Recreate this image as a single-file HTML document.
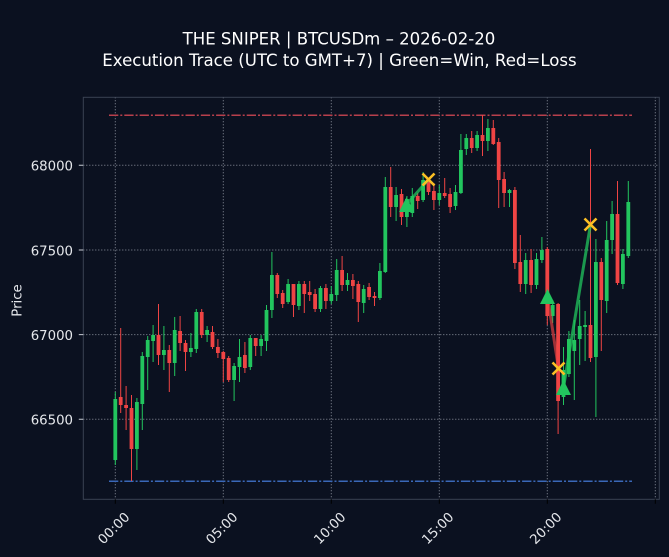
<!DOCTYPE html>
<html><head><meta charset="utf-8"><style>
html,body{margin:0;padding:0;background:#0b1120;width:669px;height:557px;overflow:hidden}
svg{display:block}
text{font-family:"DejaVu Sans","Liberation Sans",sans-serif}
</style></head><body>
<svg width="669" height="557" viewBox="0 0 669 557" xmlns="http://www.w3.org/2000/svg">
<rect x="0" y="0" width="669" height="557" fill="#0b1120"/>
<text x="339" y="44.5" font-size="17.3" fill="#ffffff" text-anchor="middle" textLength="312.7" lengthAdjust="spacingAndGlyphs">THE SNIPER | BTCUSDm – 2026-02-20</text>
<text x="339.5" y="65.8" font-size="17.3" fill="#ffffff" text-anchor="middle" textLength="474.4" lengthAdjust="spacingAndGlyphs">Execution Trace (UTC to GMT+7) | Green=Win, Red=Loss</text>
<g stroke="#b8bec8" stroke-width="1" stroke-dasharray="1 2" opacity="0.75">
<path d="M115.3 97.3V499.3M223.3 97.3V499.3M331.3 97.3V499.3M439.3 97.3V499.3M547.3 97.3V499.3M655.3 97.3V499.3"/>
<path d="M83.3 165.3H659.3M83.3 250H659.3M83.3 334.6H659.3M83.3 419.3H659.3"/>
</g>
<path d="M109 115.3H632" stroke="#b8404c" stroke-width="1.5" stroke-dasharray="9.3 2 2 2" fill="none"/>
<path d="M109 481.3H632" stroke="#3a68b8" stroke-width="1.5" stroke-dasharray="9.3 2 2 2" fill="none"/>
<g fill="#22c55e" stroke="#22c55e">
<path stroke-width="1" fill="none" d="M115.3 392V465M136.9 398V470M142.3 352V430M147.7 336V390M153.1 325V362M163.9 326V370M174.7 317V376M190.9 333V357M196.3 309V353M207.1 326V342M234.1 363V401M239.5 339V382M250.3 335V370M261.1 335V356M266.5 305V351M271.9 252V318M288.1 279V304M298.9 281V310M320.5 286V312M331.3 286V304M336.7 259V301M347.5 273V291M363.7 285V313M379.9 263V300M385.3 177V273M396.1 187V221M406.9 196V227M412.3 188V217M423.1 172V202M439.3 185V205M455.5 185V210M460.9 134V194M466.3 134V155M477.1 131V151M487.9 119V151M509.5 189V207M525.7 253V294M536.5 253V289M541.9 237V263M552.7 300V323M563.5 347V405M568.9 331V377M574.3 320V400M579.7 300V365M585.1 311V361M595.9 239V417M606.7 221V313M612.1 201V254M622.9 249V289M628.3 181V258"/>
<g stroke="none">
<rect x="113.4" y="399" width="3.8" height="61"/>
<rect x="135.0" y="402" width="3.8" height="47"/>
<rect x="140.4" y="356" width="3.8" height="48"/>
<rect x="145.8" y="340" width="3.8" height="17"/>
<rect x="151.2" y="335" width="3.8" height="6"/>
<rect x="162.0" y="350" width="3.8" height="5"/>
<rect x="172.8" y="330" width="3.8" height="33"/>
<rect x="189.0" y="348" width="3.8" height="4"/>
<rect x="194.4" y="312" width="3.8" height="37"/>
<rect x="205.2" y="330" width="3.8" height="5"/>
<rect x="232.2" y="366" width="3.8" height="14"/>
<rect x="237.6" y="357" width="3.8" height="10"/>
<rect x="248.4" y="338" width="3.8" height="29"/>
<rect x="259.2" y="339" width="3.8" height="7"/>
<rect x="264.6" y="310" width="3.8" height="31"/>
<rect x="270.0" y="275" width="3.8" height="35"/>
<rect x="286.2" y="284" width="3.8" height="18"/>
<rect x="297.0" y="284" width="3.8" height="22"/>
<rect x="318.6" y="288" width="3.8" height="21"/>
<rect x="329.4" y="294" width="3.8" height="7"/>
<rect x="334.8" y="270" width="3.8" height="25"/>
<rect x="345.6" y="280" width="3.8" height="5"/>
<rect x="361.8" y="289" width="3.8" height="14"/>
<rect x="378.0" y="271" width="3.8" height="27"/>
<rect x="383.4" y="187" width="3.8" height="85"/>
<rect x="394.2" y="195" width="3.8" height="12"/>
<rect x="405.0" y="199" width="3.8" height="18"/>
<rect x="410.4" y="196" width="3.8" height="17"/>
<rect x="421.2" y="180" width="3.8" height="20"/>
<rect x="437.4" y="193" width="3.8" height="7"/>
<rect x="453.6" y="192" width="3.8" height="14"/>
<rect x="459.0" y="150" width="3.8" height="43"/>
<rect x="464.4" y="138" width="3.8" height="11"/>
<rect x="475.2" y="135" width="3.8" height="13"/>
<rect x="486.0" y="128" width="3.8" height="13"/>
<rect x="507.6" y="190" width="3.8" height="3"/>
<rect x="523.8" y="260" width="3.8" height="24"/>
<rect x="534.6" y="259" width="3.8" height="26"/>
<rect x="540.0" y="250" width="3.8" height="10"/>
<rect x="550.8" y="305" width="3.8" height="11"/>
<rect x="561.6" y="370" width="3.8" height="27"/>
<rect x="567.0" y="339" width="3.8" height="35"/>
<rect x="572.4" y="340" width="3.8" height="11"/>
<rect x="577.8" y="326" width="3.8" height="13"/>
<rect x="583.2" y="325" width="3.8" height="2"/>
<rect x="594.0" y="262" width="3.8" height="95"/>
<rect x="604.8" y="240" width="3.8" height="61"/>
<rect x="610.2" y="214" width="3.8" height="26"/>
<rect x="621.0" y="254" width="3.8" height="30"/>
<rect x="626.4" y="202" width="3.8" height="54"/>
</g></g>
<g fill="#ef4444" stroke="#ef4444">
<path stroke-width="1" fill="none" d="M120.7 328V413M126.1 386V430M131.5 395V481M158.5 304V365M169.3 345V392M180.1 316V351M185.5 340V371M201.7 309V338M212.5 326V349M217.9 339V358M223.3 351V382M228.7 356V382M244.9 342V373M255.7 338V356M277.3 273V298M282.7 290V308M293.5 284V317M304.3 281V313M309.7 281V301M315.1 289V312M325.9 284V309M342.1 256V291M352.9 274V299M358.3 281V322M369.1 283V300M374.5 292V306M390.7 167V217M401.5 189V225M417.7 193V209M428.5 178V195M433.9 183V210M444.7 178V198M450.1 188V213M471.7 131V153M482.5 115V156M493.3 120V145M498.7 138V208M504.1 172V207M514.9 187V269M520.3 235V292M531.1 249V293M547.3 247V325M558.1 303V434M590.5 149V362M601.3 258V351M617.5 181V285"/>
<g stroke="none">
<rect x="118.8" y="397" width="3.8" height="8"/>
<rect x="124.2" y="405" width="3.8" height="3"/>
<rect x="129.6" y="408" width="3.8" height="41"/>
<rect x="156.6" y="335" width="3.8" height="20"/>
<rect x="167.4" y="350" width="3.8" height="13"/>
<rect x="178.2" y="331" width="3.8" height="12"/>
<rect x="183.6" y="343" width="3.8" height="9"/>
<rect x="199.8" y="312" width="3.8" height="23"/>
<rect x="210.6" y="332" width="3.8" height="15"/>
<rect x="216.0" y="347" width="3.8" height="6"/>
<rect x="221.4" y="352" width="3.8" height="7"/>
<rect x="226.8" y="358" width="3.8" height="22"/>
<rect x="243.0" y="355" width="3.8" height="13"/>
<rect x="253.8" y="338" width="3.8" height="8"/>
<rect x="275.4" y="275" width="3.8" height="19"/>
<rect x="280.8" y="293" width="3.8" height="11"/>
<rect x="291.6" y="284" width="3.8" height="21"/>
<rect x="302.4" y="284" width="3.8" height="10"/>
<rect x="307.8" y="292" width="3.8" height="3"/>
<rect x="313.2" y="294" width="3.8" height="15"/>
<rect x="324.0" y="288" width="3.8" height="13"/>
<rect x="340.2" y="270" width="3.8" height="15"/>
<rect x="351.0" y="280" width="3.8" height="6"/>
<rect x="356.4" y="284" width="3.8" height="18"/>
<rect x="367.2" y="287" width="3.8" height="10"/>
<rect x="372.6" y="296" width="3.8" height="2"/>
<rect x="388.8" y="187" width="3.8" height="20"/>
<rect x="399.6" y="194" width="3.8" height="23"/>
<rect x="415.8" y="196" width="3.8" height="5"/>
<rect x="426.6" y="182" width="3.8" height="10"/>
<rect x="432.0" y="191" width="3.8" height="9"/>
<rect x="442.8" y="193" width="3.8" height="3"/>
<rect x="448.2" y="194" width="3.8" height="13"/>
<rect x="469.8" y="138" width="3.8" height="10"/>
<rect x="480.6" y="135" width="3.8" height="6"/>
<rect x="491.4" y="128" width="3.8" height="16"/>
<rect x="496.8" y="142" width="3.8" height="38"/>
<rect x="502.2" y="179" width="3.8" height="14"/>
<rect x="513.0" y="190" width="3.8" height="73"/>
<rect x="518.4" y="262" width="3.8" height="22"/>
<rect x="529.2" y="260" width="3.8" height="25"/>
<rect x="545.4" y="249" width="3.8" height="67"/>
<rect x="556.2" y="304" width="3.8" height="97"/>
<rect x="588.6" y="325" width="3.8" height="33"/>
<rect x="599.4" y="262" width="3.8" height="38"/>
<rect x="615.6" y="214" width="3.8" height="69"/>
</g></g>
<g fill="none" stroke-width="3" stroke-linecap="butt">
<path d="M406.5 204.5L428.5 179.5" stroke="#22c55e" stroke-opacity="0.75"/>
<path d="M547.5 296.5L558.5 368.5" stroke="#ef4444" stroke-opacity="0.65"/>
<path d="M563.5 387.5L590.5 224.5" stroke="#22c55e" stroke-opacity="0.75"/>
</g>
<g fill="#22c55e">
<path d="M406.5 197L414 212H399Z"/>
<path d="M547.5 289L555 304H540Z"/>
<path d="M563.5 380L571 395H556Z"/>
</g>
<g stroke="#fbbf24" stroke-width="2.6" fill="none">
<path d="M422.5 173.5L434.5 185.5M434.5 173.5L422.5 185.5"/>
<path d="M552.5 362.5L564.5 374.5M564.5 362.5L552.5 374.5"/>
<path d="M584.5 218.5L596.5 230.5M596.5 218.5L584.5 230.5"/>
</g>
<rect x="83.3" y="97.3" width="576" height="402" fill="none" stroke="#3a4252" stroke-width="1"/>
<g stroke="#c8ccd4" stroke-width="1">
<path d="M78.8 165.3H83.3M78.8 250H83.3M78.8 334.6H83.3M78.8 419.3H83.3"/>
</g>
<g font-size="13.3" fill="#e5e7eb" text-anchor="end">
<text x="73" y="170.7">68000</text>
<text x="73" y="255.4">67500</text>
<text x="73" y="340">67000</text>
<text x="73" y="424.7">66500</text>
</g>
<text transform="translate(21.5 300.5) rotate(-90)" font-size="13.3" fill="#e5e7eb" text-anchor="middle">Price</text>
<g stroke="#000000" stroke-width="1">
<path d="M115.3 499.3V503.8M223.3 499.3V503.8M331.3 499.3V503.8M439.3 499.3V503.8M547.3 499.3V503.8M655.3 499.3V503.8"/>
</g>
<g font-size="13.3" fill="#e5e7eb" text-anchor="middle">
<text transform="translate(113.5 528) rotate(-45)" y="4.8">00:00</text>
<text transform="translate(221.5 528) rotate(-45)" y="4.8">05:00</text>
<text transform="translate(329.5 528) rotate(-45)" y="4.8">10:00</text>
<text transform="translate(437.5 528) rotate(-45)" y="4.8">15:00</text>
<text transform="translate(545.5 528) rotate(-45)" y="4.8">20:00</text>
</g>
</svg>
</body></html>
